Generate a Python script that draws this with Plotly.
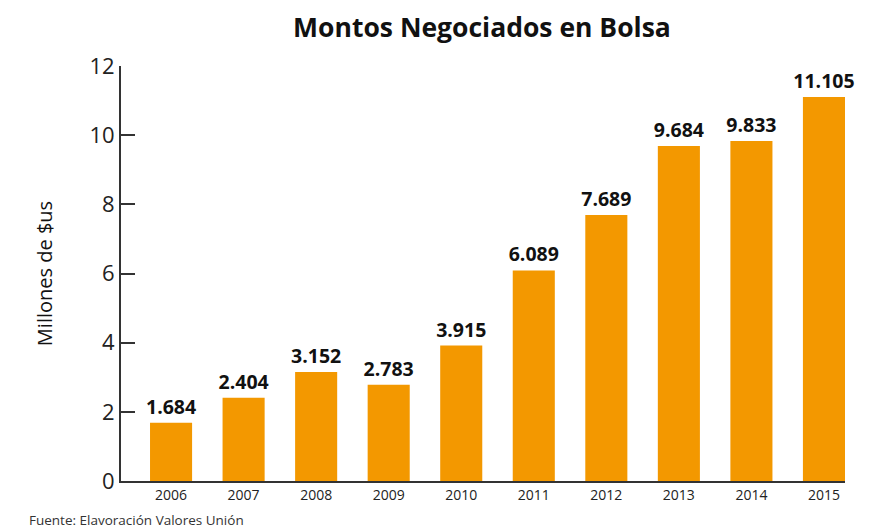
import plotly.graph_objects as go

years = ["2006", "2007", "2008", "2009", "2010", "2011", "2012", "2013", "2014", "2015"]
montos = [1.684, 2.404, 3.152, 2.783, 3.915, 6.089, 7.689, 9.684, 9.833, 11.105]
labels = ["1.684", "2.404", "3.152", "2.783", "3.915", "6.089", "7.689", "9.684", "9.833", "11.105"]

FONT = "Open Sans"

fig = go.Figure(go.Bar(
    x=list(range(len(years))),
    y=montos,
    width=0.58,
    marker_color="#F39800",
    marker_line_width=0,
    text=labels,
    textposition="outside",
    constraintext="none",
    cliponaxis=False,
    textfont=dict(family=FONT, size=19.5, color="#111111", weight="bold"),
))

# page has an 8px body margin, so margins are shifted by that amount
fig.update_layout(
    width=869,
    height=528,
    paper_bgcolor="white",
    plot_bgcolor="white",
    font=dict(family=FONT, color="#222222"),
    title=dict(
        text="<b>Montos Negociados en Bolsa</b>",
        x=0.4986, xref="paper", xanchor="center", y=0.962, yanchor="middle",
        font=dict(family=FONT, size=26.5, color="#111111"),
    ),
    margin=dict(l=113, r=32, t=58, b=55, autoexpand=False),
    showlegend=False,
    xaxis=dict(
        range=[-0.69, 9.29],
        tickvals=list(range(len(years))),
        ticktext=years,
        tickfont=dict(size=14, color="#222222"),
        showline=True, linecolor="#333333", linewidth=2,
        showgrid=False, zeroline=False, ticks="", automargin=False,
    ),
    yaxis=dict(
        range=[0, 12],
        tickvals=[0, 2, 4, 6, 8, 10, 12],
        tickfont=dict(size=22, color="#222222"),
        ticks="inside", ticklen=14, tickcolor="#333333", tickwidth=2,
        showline=True, linecolor="#333333", linewidth=2,
        showgrid=False, zeroline=False, automargin=False,
        title=dict(text="Millones de $us", font=dict(size=20, color="#111111"), standoff=31),
    ),
    annotations=[dict(
        text="Fuente: Elavoración Valores Unión",
        xref="paper", yref="paper", x=-0.13, y=-0.094,
        xanchor="left", yanchor="middle", showarrow=False,
        font=dict(family=FONT, size=13.5, color="#333333"),
    )],
)

fig.write_html("out.html")
